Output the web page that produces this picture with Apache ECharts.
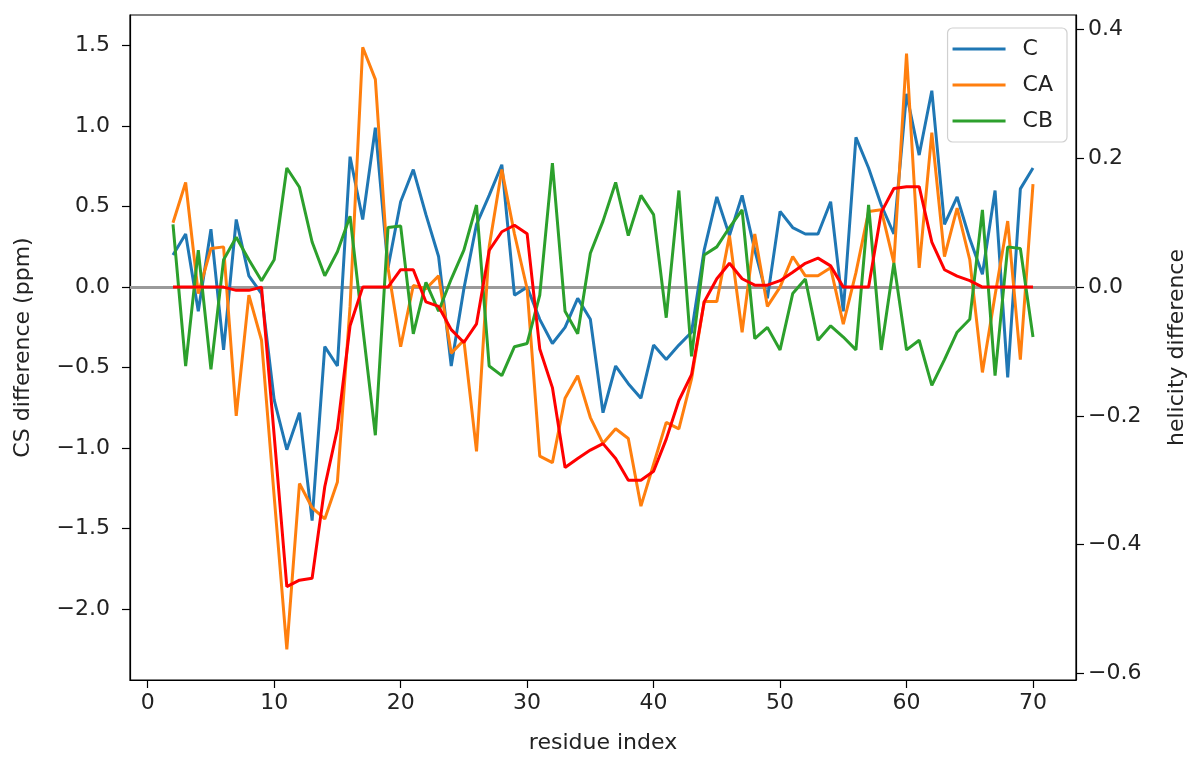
<!DOCTYPE html>
<html>
<head>
<meta charset="utf-8">
<script src="https://cdn.jsdelivr.net/npm/echarts@6/dist/echarts.min.js"></script>
<style>
html,body{margin:0;padding:0;background:#fff;}
#chart{width:1200px;height:765px;}
</style>
</head>
<body>
<div id="chart"></div>
<script>
const residues = [2,3,4,5,6,7,8,9,10,11,12,13,14,15,16,17,18,19,20,21,22,23,24,25,26,27,28,29,30,31,32,33,34,35,36,37,38,39,40,41,42,43,44,45,46,47,48,49,50,51,52,53,54,55,56,57,58,59,60,61,62,63,64,65,66,67,68,69,70];

const cShift = [0.20,0.33,-0.15,0.36,-0.39,0.42,0.07,-0.04,-0.70,-1.01,-0.78,-1.45,-0.37,-0.49,0.81,0.42,0.99,0.12,0.53,0.73,0.45,0.19,-0.49,-0.01,0.39,0.57,0.76,-0.05,0.00,-0.20,-0.35,-0.25,-0.07,-0.20,-0.78,-0.49,-0.60,-0.69,-0.36,-0.45,-0.36,-0.28,0.23,0.56,0.32,0.57,0.23,-0.07,0.47,0.37,0.33,0.33,0.53,-0.15,0.93,0.74,0.51,0.33,1.20,0.82,1.22,0.39,0.56,0.30,0.08,0.60,-0.56,0.61,0.74];

const caShift = [0.40,0.65,-0.04,0.24,0.25,-0.80,-0.05,-0.33,-1.30,-2.25,-1.22,-1.37,-1.44,-1.21,-0.12,1.49,1.29,0.12,-0.37,0.01,-0.01,0.07,-0.41,-0.33,-1.02,0.25,0.73,0.33,-0.01,-1.05,-1.09,-0.69,-0.55,-0.81,-0.97,-0.88,-0.94,-1.36,-1.10,-0.84,-0.88,-0.57,-0.09,-0.09,0.32,-0.28,0.33,-0.12,0.00,0.19,0.07,0.07,0.12,-0.23,0.09,0.47,0.48,0.15,1.45,0.12,0.96,0.19,0.49,0.17,-0.53,-0.05,0.41,-0.45,0.64];

const cbShift = [0.39,-0.49,0.23,-0.51,0.17,0.31,0.17,0.04,0.17,0.74,0.62,0.28,0.07,0.22,0.44,-0.25,-0.92,0.37,0.38,-0.29,0.03,-0.15,0.05,0.23,0.51,-0.49,-0.55,-0.37,-0.35,-0.05,0.77,-0.15,-0.29,0.21,0.41,0.65,0.32,0.57,0.45,-0.19,0.60,-0.43,0.20,0.25,0.37,0.48,-0.32,-0.25,-0.39,-0.04,0.05,-0.33,-0.24,-0.31,-0.39,0.51,-0.39,0.15,-0.39,-0.33,-0.61,-0.45,-0.28,-0.20,0.48,-0.55,0.25,0.24,-0.31];

const helicity = [0,0,0,0,0,-0.005,-0.005,0,-0.23,-0.465,-0.455,-0.452,-0.31,-0.22,-0.06,0,0,0,0.027,0.027,-0.023,-0.03,-0.066,-0.086,-0.057,0.057,0.086,0.096,0.083,-0.096,-0.156,-0.28,-0.266,-0.253,-0.243,-0.266,-0.30,-0.30,-0.286,-0.236,-0.176,-0.136,-0.023,0.013,0.037,0.013,0.003,0.003,0.01,0.023,0.037,0.045,0.033,0,0,0,0.116,0.153,0.156,0.156,0.07,0.027,0.017,0.01,0,0,0,0,0];

const xTicks = [0,10,20,30,40,50,60,70];
const leftTicks = [-2.0,-1.5,-1.0,-0.5,0.0,0.5,1.0,1.5];
const rightTicks = [-0.6,-0.4,-0.2,0.0,0.2,0.4];

const FONT = 'DejaVu Sans';
const TXT = '#222';
const FS = 22;

function fmt1(v){
  const r = Math.round(v*10)/10;
  if (Math.abs(r) < 1e-9) return '0.0';
  return (r < 0 ? '\u2212' : '') + Math.abs(r).toFixed(1);
}
function pairs(ys){ return residues.map((x,i)=>[x, ys[i]]); }

const chart = echarts.init(document.getElementById('chart'), null, {renderer:'canvas'});

const axisCommon = {
  axisLine:{show:true, onZero:false, lineStyle:{color:'#000', width:1.2}},
  axisTick:{show:true, inside:false, length:8, lineStyle:{color:'#000', width:1.2}},
  splitLine:{show:false},
  nameTextStyle:{fontFamily:FONT, fontSize:FS, color:TXT}
};

chart.setOption({
  animation:false,
  backgroundColor:'#fff',
  grid:{left:130, right:124, top:15, bottom:85, show:true, borderColor:'#000', borderWidth:1.2, containLabel:false},
  legend:{
    show:true,
    data:['C','CA','CB'],
    orient:'vertical',
    right:133, top:28,
    icon:'rect',
    itemWidth:53, itemHeight:3,
    itemGap:14,
    padding:[10,14,10,5],
    backgroundColor:'rgba(255,255,255,0.85)',
    borderColor:'#d0d0d0', borderWidth:1.2, borderRadius:5,
    textStyle:{fontFamily:FONT, fontSize:FS, color:TXT, padding:[0,0,0,12]}
  },
  xAxis:Object.assign({}, axisCommon, {
    type:'value', min:-1.4, max:73.4,
    name:'residue index', nameLocation:'middle', nameGap:52,
    axisTick:Object.assign({}, axisCommon.axisTick, {customValues:xTicks}),
    axisLabel:{customValues:xTicks, fontFamily:FONT, fontSize:FS, color:TXT, margin:12, formatter:v=>String(v)}
  }),
  yAxis:[
    Object.assign({}, axisCommon, {
      type:'value', min:-2.44, max:1.69, position:'left',
      name:'CS difference (ppm)', nameLocation:'middle', nameGap:96, nameRotate:90,
      axisTick:Object.assign({}, axisCommon.axisTick, {customValues:leftTicks}),
      axisLabel:{customValues:leftTicks, fontFamily:FONT, fontSize:FS, color:TXT, margin:20, formatter:fmt1}
    }),
    Object.assign({}, axisCommon, {
      type:'value', min:-0.61, max:0.4225, position:'right',
      name:'helicity difference', nameLocation:'middle', nameGap:90, nameRotate:90,
      axisTick:Object.assign({}, axisCommon.axisTick, {customValues:rightTicks}),
      axisLabel:{customValues:rightTicks, fontFamily:FONT, fontSize:FS, color:TXT, margin:12, formatter:fmt1}
    })
  ],
  series:[
    {name:'C', type:'line', yAxisIndex:0, data:pairs(cShift), showSymbol:false, symbol:'none',
     lineStyle:{color:'#1f77b4', width:3}, itemStyle:{color:'#1f77b4'}, z:3,
     markLine:{silent:true, symbol:['none','none'], label:{show:false},
       lineStyle:{color:'#9a9a9a', width:2.8, type:'solid'}, data:[{yAxis:0}], z:1}},
    {name:'CA', type:'line', yAxisIndex:0, data:pairs(caShift), showSymbol:false, symbol:'none',
     lineStyle:{color:'#ff7f0e', width:3}, itemStyle:{color:'#ff7f0e'}, z:4},
    {name:'CB', type:'line', yAxisIndex:0, data:pairs(cbShift), showSymbol:false, symbol:'none',
     lineStyle:{color:'#2ca02c', width:3}, itemStyle:{color:'#2ca02c'}, z:5},
    {name:'helicity', type:'line', yAxisIndex:1, data:pairs(helicity), showSymbol:false, symbol:'none',
     lineStyle:{color:'#ff0000', width:3}, itemStyle:{color:'#ff0000'}, z:6}
  ]
});
</script>
</body>
</html>
